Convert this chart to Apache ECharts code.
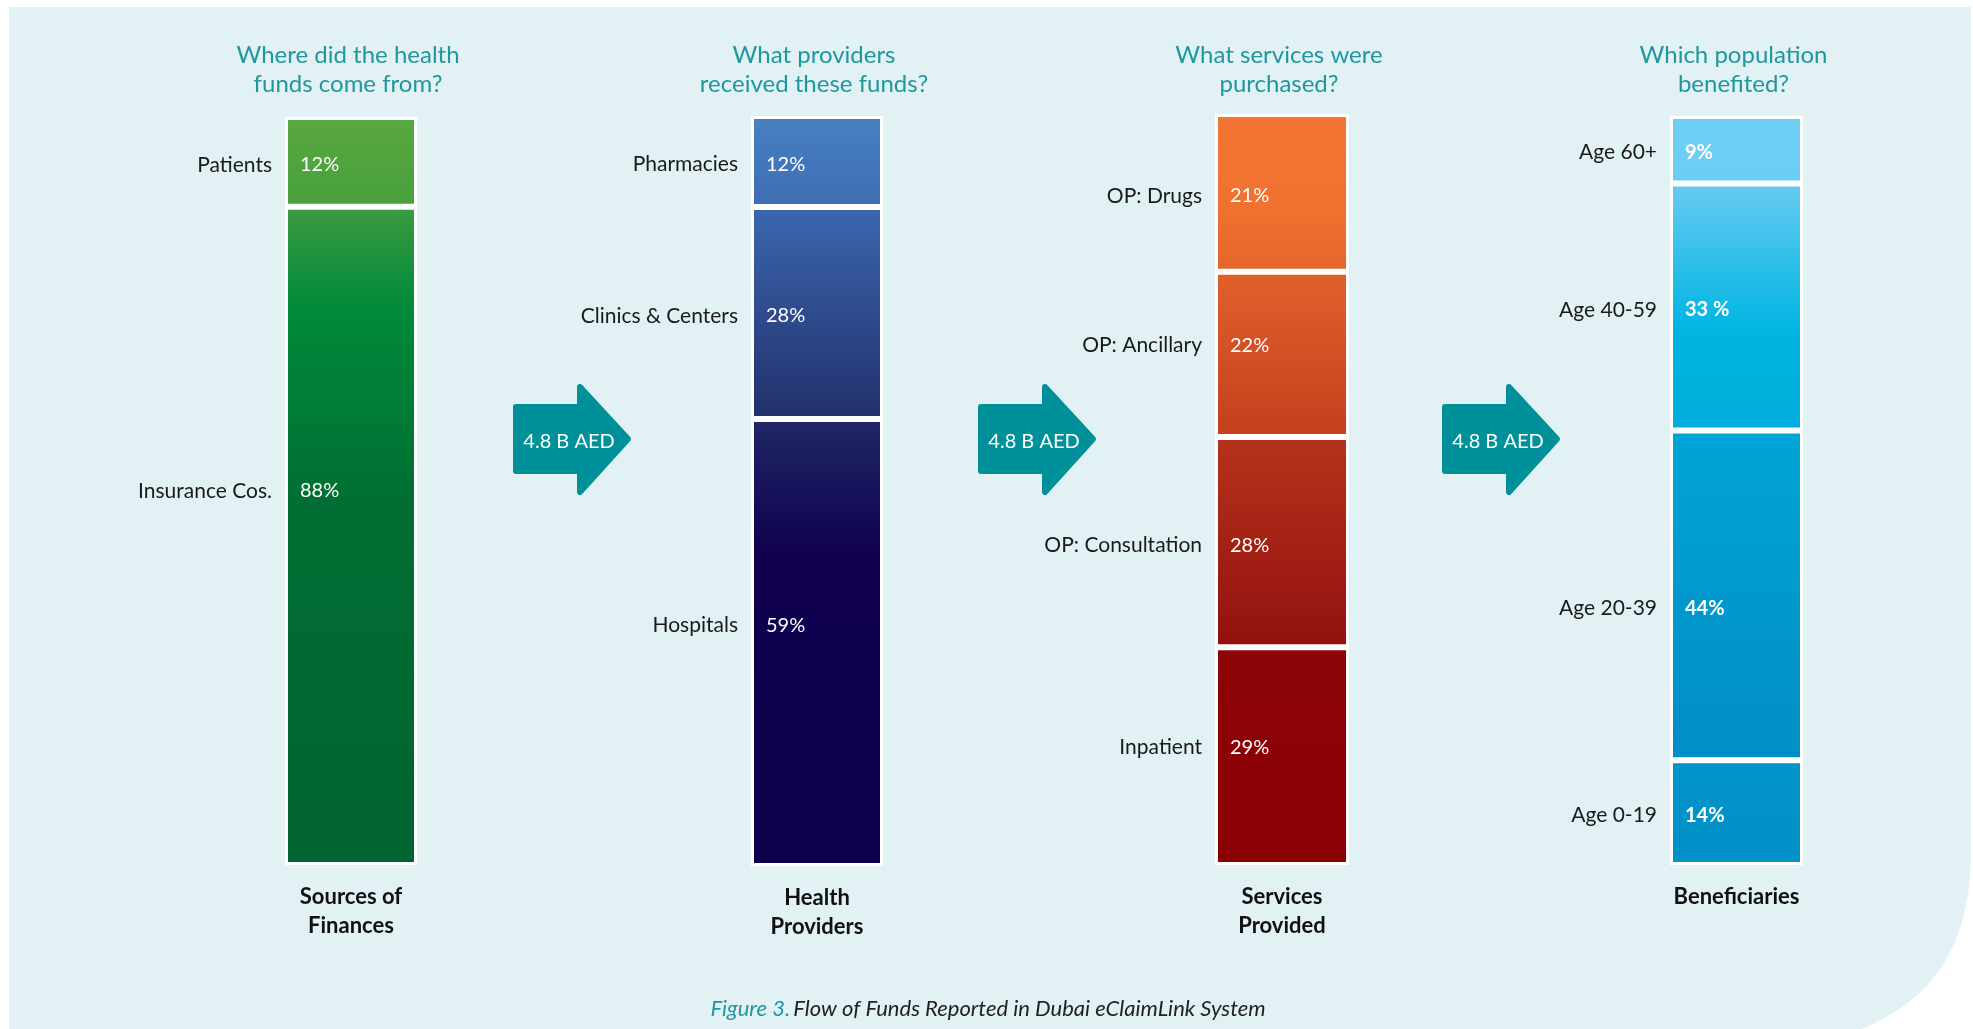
<!DOCTYPE html>
<html>
<head>
<meta charset="utf-8">
<script src="https://cdn.jsdelivr.net/npm/echarts@6/dist/echarts.min.js"></script>
<style>html,body{margin:0;padding:0;background:#fff;}#c{width:1973px;height:1029px;}</style>
</head>
<body>
<div id="c"></div>
<script>
// ---------- data ----------
const sourceCategories = ['Patients', 'Insurance Cos.'];
const sourceValues = [12, 88];
const sourcePercentLabels = ['12%', '88%'];

const providerCategories = ['Pharmacies', 'Clinics & Centers', 'Hospitals'];
const providerValues = [12, 28, 59];
const providerPercentLabels = ['12%', '28%', '59%'];

const serviceCategories = ['OP: Drugs', 'OP: Ancillary', 'OP: Consultation', 'Inpatient'];
const serviceValues = [21, 22, 28, 29];
const servicePercentLabels = ['21%', '22%', '28%', '29%'];

const beneficiaryCategories = ['Age 60+', 'Age 40-59', 'Age 20-39', 'Age 0-19'];
const beneficiaryValues = [9, 33, 44, 14];
const beneficiaryPercentLabels = ['9%', '33 %', '44%', '14%'];

const columnNames = ['Sources of\nFinances', 'Health\nProviders', 'Services\nProvided', 'Beneficiaries'];
const columnQuestions = ['Where did the health\nfunds come from?', 'What providers\nreceived these funds?', 'What services were\npurchased?', 'Which population\nbenefited?'];
const flowLabel = '4.8 B AED';
const captionLead = 'Figure 3.';
const captionText = 'Flow of Funds Reported in Dubai eClaimLink System';

// ---------- layout & style ----------
const FONT = 'Lato';
const panels = [
  { names: sourceCategories, values: sourceValues, pct: sourcePercentLabels, left: 285, top: 117, width: 132, height: 748, bold: false,
    grads: [[[0, '#5AA740'], [1, '#47A03D']],
            [[0, '#3C9A40'], [0.15, '#008A3A'], [0.45, '#006E33'], [1, '#006430']]] },
  { names: providerCategories, values: providerValues, pct: providerPercentLabels, left: 751, top: 116, width: 132, height: 750, bold: false,
    grads: [[[0, '#4780C3'], [1, '#3E6DB2']],
            [[0, '#3B67AE'], [1, '#22306C']],
            [[0, '#1F2867'], [0.3, '#10004E'], [1, '#0F004C']]] },
  { names: serviceCategories, values: serviceValues, pct: servicePercentLabels, left: 1215, top: 114, width: 134, height: 751, bold: false,
    grads: [[[0, '#F27532'], [0.6, '#F07230'], [1, '#E3652B']],
            [[0, '#E0612B'], [1, '#C43F1E']],
            [[0, '#B5331A'], [1, '#921110']],
            [[0, '#8C0507'], [1, '#8A0005']]] },
  { names: beneficiaryCategories, values: beneficiaryValues, pct: beneficiaryPercentLabels, left: 1670, top: 116, width: 133, height: 749, bold: true,
    grads: [[[0, '#6FD0F6'], [1, '#6ACDF4']],
            [[0, '#66CBF1'], [0.6, '#00B4E2'], [1, '#00ADDD']],
            [[0, '#00A4D6'], [1, '#008EC6']],
            [[0, '#0093CA'], [1, '#0091C9']]] }
];
const labelNudge = { 'Insurance Cos.': -48, 'Hospitals': -20, 'OP: Ancillary': -12, 'Inpatient': -12, 'Age 20-39': 10 };
const LABEL_DROP = 3;

function grad(stops) {
  return { type: 'linear', x: 0, y: 0, x2: 0, y2: 1, global: false,
           colorStops: stops.map(s => ({ offset: s[0], color: s[1] })) };
}

const grids = [], xAxes = [], yAxes = [], series = [];
panels.forEach((p, pi) => {
  grids.push({ left: p.left, top: p.top, width: p.width, height: p.height });
  xAxes.push({
    type: 'category', gridIndex: pi, data: [columnNames[pi]],
    axisLine: { show: false }, axisTick: { show: false },
    axisLabel: { fontFamily: FONT, fontSize: 22, fontWeight: 'bold', color: '#111', lineHeight: 29, margin: 17 }
  });
  const total = p.values.reduce((a, b) => a + b, 0);
  yAxes.push({ type: 'value', gridIndex: pi, min: 0, max: total, show: false, splitLine: { show: false } });
  for (let i = p.names.length - 1; i >= 0; i--) {
    const nudge = (labelNudge[p.names[i]] || 0) + LABEL_DROP;
    series.push({
      type: 'bar', name: p.names[i], xAxisIndex: pi, yAxisIndex: pi, stack: 'vis' + pi,
      barWidth: p.width, barGap: '-100%',
      data: [p.values[i]],
      itemStyle: { color: grad(p.grads[i]), borderColor: '#ffffff', borderWidth: 3 },
      label: {
        show: true, position: 'insideLeft', distance: 15, offset: [0, nudge],
        formatter: p.pct[i], color: '#ffffff', fontFamily: FONT, fontSize: 20,
        fontWeight: p.bold ? 'bold' : 'normal'
      },
      emphasis: { disabled: true }
    });
    series.push({
      type: 'bar', name: p.names[i] + ' ', xAxisIndex: pi, yAxisIndex: pi, stack: 'lab' + pi,
      barWidth: p.width, barGap: '-100%', silent: true,
      data: [p.values[i]],
      itemStyle: { color: 'rgba(0,0,0,0)' },
      label: {
        show: true, position: 'left', distance: 13, offset: [0, nudge],
        formatter: p.names[i], color: '#1a1a1a', fontFamily: FONT, fontSize: 21
      },
      emphasis: { disabled: true }
    });
  }
});

// ---------- decorations ----------
const bgPts = [[9, 7], [1971, 7], [1971, 850]];
(function () {
  const p0 = [1971, 850], p1 = [1971, 950], p2 = [1930, 1000], p3 = [1862, 1029];
  for (let k = 1; k <= 24; k++) {
    const t = k / 24, u = 1 - t;
    bgPts.push([
      u*u*u*p0[0] + 3*u*u*t*p1[0] + 3*u*t*t*p2[0] + t*t*t*p3[0],
      u*u*u*p0[1] + 3*u*u*t*p1[1] + 3*u*t*t*p2[1] + t*t*t*p3[1]
    ]);
  }
  bgPts.push([9, 1029]);
})();
const graphics = [
  { type: 'polygon', z: -10, silent: true, shape: { points: bgPts }, style: { fill: '#E2F1F4' } }
];
const arrowOffsets = [0, 465, 929];
arrowOffsets.forEach(dx => {
  graphics.push({
    type: 'polygon', z: 1, silent: true,
    shape: { points: [[516 + dx, 407], [580 + dx, 407], [580 + dx, 387], [628 + dx, 439], [580 + dx, 492], [580 + dx, 471], [516 + dx, 471]] },
    style: { fill: '#00909A', stroke: '#00909A', lineWidth: 6, lineJoin: 'round' }
  });
  graphics.push({
    type: 'text', z: 2, silent: true, x: 569 + dx, y: 442,
    style: { text: flowLabel, fill: '#ffffff', fontFamily: FONT, fontSize: 20, align: 'center', verticalAlign: 'middle' }
  });
});
panels.forEach((p, pi) => {
  graphics.push({
    type: 'text', z: 2, silent: true, x: p.left + p.width / 2 - 3, y: 41,
    style: { text: columnQuestions[pi], fill: '#1E979F', fontFamily: FONT, fontSize: 24, lineHeight: 29, align: 'center', verticalAlign: 'top' }
  });
});
graphics.push({
  type: 'text', z: 2, silent: true, x: 988, y: 1009,
  style: {
    text: '{a|' + captionLead + '} {b|' + captionText + '}',
    align: 'center', verticalAlign: 'middle',
    rich: {
      a: { fontFamily: FONT, fontStyle: 'italic', fontSize: 22, fill: '#1E979F' },
      b: { fontFamily: FONT, fontStyle: 'italic', fontSize: 22, fill: '#222222' }
    }
  }
});

const chart = echarts.init(document.getElementById('c'), null, { renderer: 'canvas' });
chart.setOption({
  animation: false,
  backgroundColor: '#ffffff',
  grid: grids, xAxis: xAxes, yAxis: yAxes, series: series,
  graphic: graphics
});
</script>
</body>
</html>
